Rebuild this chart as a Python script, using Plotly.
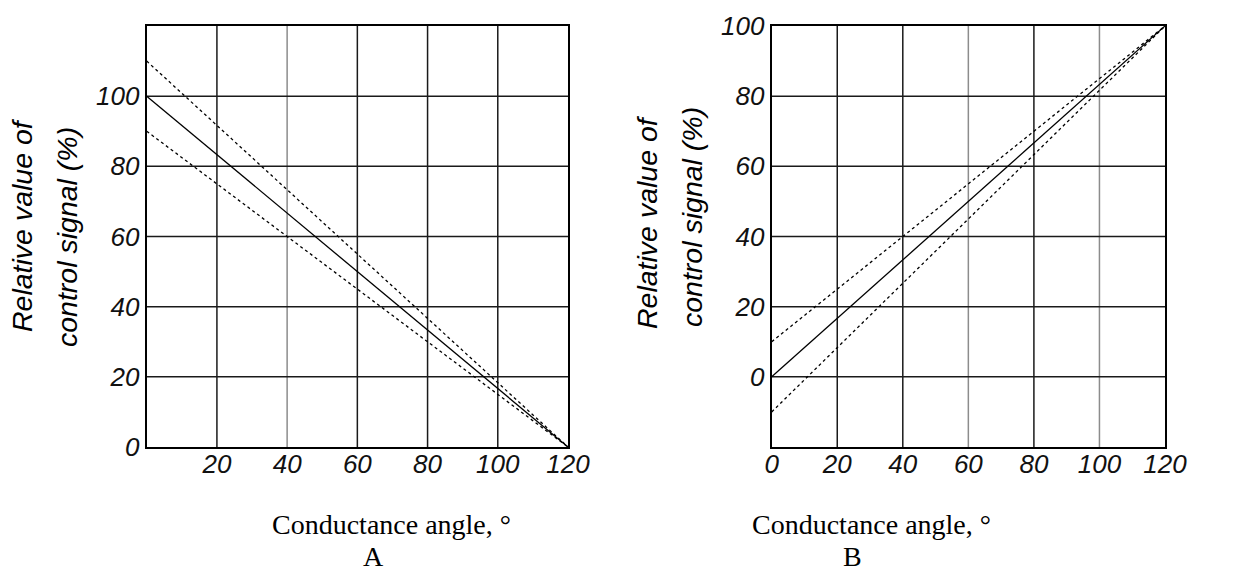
import plotly.graph_objects as go

# ---- data ----
angle = [0, 120]
a_nominal = [100, 0]
a_upper = [110, 0]
a_lower = [90, 0]
b_nominal = [0, 100]
b_upper = [10, 100]
b_lower = [-10, 100]

a_xticks = [20, 40, 60, 80, 100, 120]
a_yticks = [0, 20, 40, 60, 80, 100]
b_xticks = [0, 20, 40, 60, 80, 100, 120]
b_yticks = [0, 20, 40, 60, 80, 100]
grid_x = [20, 40, 60, 80, 100]
a_grid_y = [20, 40, 60, 80, 100]
b_grid_y = [0, 20, 40, 60, 80]

W, H = 1240, 573
def px(x):
    return x / W
def py(y):
    return 1 - y / H

fig = go.Figure()

def add_set(xa, ya, nom, up, lo):
    fig.add_trace(go.Scatter(x=angle, y=up, mode="lines", xaxis=xa, yaxis=ya,
                             line=dict(color="black", width=1.3, dash="dot"), showlegend=False))
    fig.add_trace(go.Scatter(x=angle, y=lo, mode="lines", xaxis=xa, yaxis=ya,
                             line=dict(color="black", width=1.3, dash="dot"), showlegend=False))
    fig.add_trace(go.Scatter(x=angle, y=nom, mode="lines", xaxis=xa, yaxis=ya,
                             line=dict(color="black", width=1.3), showlegend=False))

add_set("x", "y", a_nominal, a_upper, a_lower)
add_set("x2", "y2", b_nominal, b_upper, b_lower)

tickfont = dict(family="Liberation Sans, Arial", size=26, color="#111111", style="italic")
axis_common = dict(showgrid=False, zeroline=False, showline=True, mirror=True,
                   linecolor="black", linewidth=2, ticks="", tickfont=tickfont,
                   fixedrange=True, automargin=False)

fig.update_layout(
    width=W, height=H,
    margin=dict(l=0, r=0, t=0, b=0),
    paper_bgcolor="white", plot_bgcolor="white",
    xaxis=dict(domain=[px(146.7), px(568)], range=[0, 120], tickvals=a_xticks,
               anchor="y", ticklabelstandoff=-7, **axis_common),
    yaxis=dict(domain=[py(447), py(26)], range=[0, 120], tickvals=a_yticks,
               anchor="x", **axis_common),
    xaxis2=dict(domain=[px(771.7), px(1165)], range=[0, 120], tickvals=b_xticks,
                anchor="y2", ticklabelstandoff=-7, **axis_common),
    yaxis2=dict(domain=[py(447), py(26)], range=[-20, 100], tickvals=b_yticks,
                anchor="x2", **axis_common),
)

shapes = []
def grid_color(panel, v):
    if panel == "a" and v == 40:
        return "#8c8c8c"
    if panel == "b" and v in (60, 100):
        return "#8c8c8c"
    return "#1a1a1a"

for v in grid_x:
    shapes.append(dict(type="line", xref="x", yref="y domain", x0=v, x1=v, y0=0, y1=1,
                       line=dict(color=grid_color("a", v), width=1.5), layer="below"))
    shapes.append(dict(type="line", xref="x2", yref="y2 domain", x0=v, x1=v, y0=0, y1=1,
                       line=dict(color=grid_color("b", v), width=1.5), layer="below"))
for v in a_grid_y:
    shapes.append(dict(type="line", xref="x domain", yref="y", x0=0, x1=1, y0=v, y1=v,
                       line=dict(color="#1a1a1a", width=1.5), layer="below"))
for v in b_grid_y:
    shapes.append(dict(type="line", xref="x2 domain", yref="y2", x0=0, x1=1, y0=v, y1=v,
                       line=dict(color="#1a1a1a", width=1.5), layer="below"))
fig.update_layout(shapes=shapes)

sans_it = dict(family="Liberation Sans, Arial", size=28.5, color="black", style="italic")
serif = dict(family="Liberation Serif, Times New Roman", size=28, color="black")

ann = []
def a(text, x, y, font, angle=0, yanchor="middle"):
    ann.append(dict(text=text, x=px(x), y=py(y), xref="paper", yref="paper",
                    xanchor="center", yanchor=yanchor, showarrow=False, borderpad=0,
                    font=font, textangle=angle))

a("Relative value of", 22, 225, sans_it, -90)
a("control signal (%)", 67, 237, sans_it, -90)
a("Relative value of", 647, 222, sans_it, -90)
a("control signal (%)", 692, 217, sans_it, -90)
a("Conductance angle, °", 391, 524, serif)
a("A", 373, 573, serif, yanchor="bottom")
a("Conductance angle, °", 871, 524, serif)
a("B", 852, 573, serif, yanchor="bottom")
fig.update_layout(annotations=ann)

fig.write_html("out.html", config={"displayModeBar": False},
               post_script="document.body.style.margin='0';document.body.style.overflow='hidden';")
